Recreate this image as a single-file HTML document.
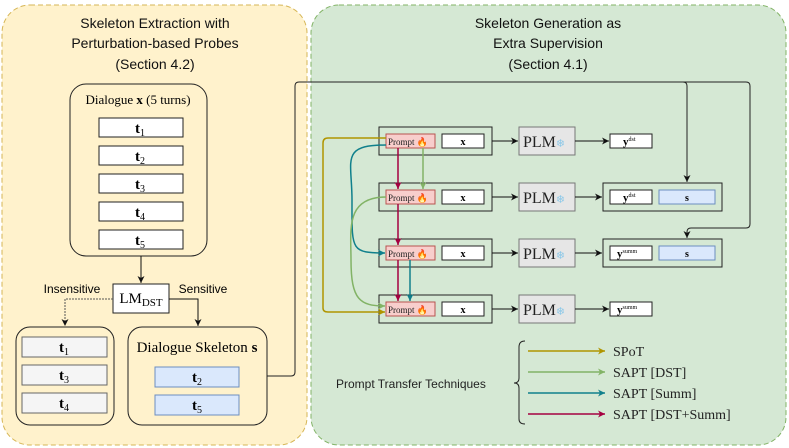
<!DOCTYPE html>
<html><head><meta charset="utf-8"><style>
body{margin:0;background:#fff}
svg{display:block}
text{font-family:"Liberation Sans",sans-serif}
.s, .s text, text.s{font-family:"Liberation Serif",serif}
</style></head><body>
<svg width="789" height="448" viewBox="0 0 789 448" xmlns="http://www.w3.org/2000/svg">
<defs>
<marker id="k" markerWidth="8" markerHeight="8" refX="7" refY="4" orient="auto" markerUnits="userSpaceOnUse"><path d="M0,0.5 L7,4 L0,7.5 L2,4z" fill="#111"/></marker>
<marker id="o" markerWidth="8" markerHeight="8" refX="7" refY="4" orient="auto" markerUnits="userSpaceOnUse"><path d="M0,0.5 L7,4 L0,7.5 L2,4z" fill="#b09500"/></marker>
<marker id="g" markerWidth="8" markerHeight="8" refX="7" refY="4" orient="auto" markerUnits="userSpaceOnUse"><path d="M0,0.5 L7,4 L0,7.5 L2,4z" fill="#82b366"/></marker>
<marker id="t" markerWidth="8" markerHeight="8" refX="7" refY="4" orient="auto" markerUnits="userSpaceOnUse"><path d="M0,0.5 L7,4 L0,7.5 L2,4z" fill="#10808c"/></marker>
<marker id="r" markerWidth="8" markerHeight="8" refX="7" refY="4" orient="auto" markerUnits="userSpaceOnUse"><path d="M0,0.5 L7,4 L0,7.5 L2,4z" fill="#a50040"/></marker>
</defs>
<rect x="2" y="5" width="305" height="440" rx="28" fill="#fff2cc" stroke="#d6b656" stroke-dasharray="5,3"/>
<rect x="311" y="5" width="475" height="440" rx="28" fill="#d5e8d4" stroke="#82b366" stroke-dasharray="5,3"/>
<g font-size="14" text-anchor="middle" fill="#111">
<text x="155" y="28">Skeleton Extraction with</text>
<text x="155" y="48">Perturbation-based Probes</text>
<text x="155" y="69">(Section 4.2)</text>
<text x="548" y="28">Skeleton Generation as</text>
<text x="548" y="48">Extra Supervision</text>
<text x="548" y="69">(Section 4.1)</text>
</g>
<rect x="70" y="84" width="137" height="172" rx="16" fill="#fff2cc" stroke="#222"/>
<text class="s" x="138" y="104" font-size="13" text-anchor="middle">Dialogue <tspan font-weight="bold">x</tspan> (5 turns)</text>
<g fill="#fff" stroke="#222">
<rect x="99" y="118" width="84" height="19"/><rect x="99" y="146" width="84" height="19"/><rect x="99" y="174" width="84" height="19"/><rect x="99" y="202" width="84" height="19"/><rect x="99" y="230" width="84" height="19"/>
</g>
<g class="s" font-size="15" text-anchor="middle" font-weight="bold">
<text x="140" y="133">t<tspan font-size="10" font-weight="normal" dy="3">1</tspan></text>
<text x="140" y="161">t<tspan font-size="10" font-weight="normal" dy="3">2</tspan></text>
<text x="140" y="189">t<tspan font-size="10" font-weight="normal" dy="3">3</tspan></text>
<text x="140" y="217">t<tspan font-size="10" font-weight="normal" dy="3">4</tspan></text>
<text x="140" y="245">t<tspan font-size="10" font-weight="normal" dy="3">5</tspan></text>
</g>
<line x1="141" y1="256" x2="141" y2="283" stroke="#111" marker-end="url(#k)"/>
<rect x="113" y="284" width="56" height="29" fill="#fff" stroke="#222"/>
<text class="s" x="141" y="303" font-size="15" text-anchor="middle">LM<tspan font-size="11" dy="3">DST</tspan></text>
<text x="72" y="293" font-size="12" text-anchor="middle">Insensitive</text>
<text x="203" y="293" font-size="12" text-anchor="middle">Sensitive</text>
<path d="M113,299 H65 V326" fill="none" stroke="#555" stroke-dasharray="2,1" marker-end="url(#k)"/>
<path d="M169,299 H198 V326" fill="none" stroke="#111" marker-end="url(#k)"/>
<rect x="16" y="327" width="98" height="98" rx="14" fill="#fff2cc" stroke="#222"/>
<g fill="#f5f5f5" stroke="#666"><rect x="22" y="337" width="85" height="20"/><rect x="22" y="365" width="85" height="20"/><rect x="22" y="393" width="85" height="20"/></g>
<g class="s" font-size="15" text-anchor="middle" font-weight="bold">
<text x="64" y="352">t<tspan font-size="10" font-weight="normal" dy="3">1</tspan></text>
<text x="64" y="380">t<tspan font-size="10" font-weight="normal" dy="3">3</tspan></text>
<text x="64" y="408">t<tspan font-size="10" font-weight="normal" dy="3">4</tspan></text>
</g>
<rect x="128" y="327" width="139" height="98" rx="14" fill="#fff2cc" stroke="#222"/>
<text class="s" x="197" y="352" font-size="15" text-anchor="middle">Dialogue Skeleton <tspan font-weight="bold">s</tspan></text>
<g fill="#dae8fc" stroke="#6c8ebf"><rect x="155" y="367" width="84" height="20"/><rect x="155" y="395" width="84" height="20"/></g>
<g class="s" font-size="15" text-anchor="middle" font-weight="bold">
<text x="197" y="382">t<tspan font-size="10" font-weight="normal" dy="3">2</tspan></text>
<text x="197" y="410">t<tspan font-size="10" font-weight="normal" dy="3">5</tspan></text>
</g>
<path d="M267,376 H291 Q295,376 295,372 V86 Q295,82 299,82 H683 Q687,82 687,86 V182" fill="none" stroke="#222" marker-end="url(#k)"/>
<path d="M683,82 H746 Q750,82 750,86 V224 Q750,228 746,228 H691 Q687,228 687,232 V238" fill="none" stroke="#222" marker-end="url(#k)"/>
<g stroke="#222" fill="none"><rect x="379" y="127" width="113" height="28"/><rect x="379" y="183" width="113" height="28"/><rect x="379" y="239" width="113" height="28"/><rect x="379" y="295" width="113" height="28"/></g>
<g fill="#f8cecc" stroke="#b85450"><rect x="386" y="134" width="49" height="14"/><rect x="386" y="190" width="49" height="14"/><rect x="386" y="246" width="49" height="14"/><rect x="386" y="302" width="49" height="14"/></g>
<g fill="#fff" stroke="#222"><rect x="442" y="134" width="42" height="14"/><rect x="442" y="190" width="42" height="14"/><rect x="442" y="246" width="42" height="14"/><rect x="442" y="302" width="42" height="14"/></g>
<g fill="#e6e6e6" stroke="#777"><rect x="519" y="127" width="56" height="28"/><rect x="519" y="183" width="56" height="28"/><rect x="519" y="239" width="56" height="28"/><rect x="519" y="295" width="56" height="28"/></g>
<g stroke="#222" fill="none"><rect x="603" y="183" width="119" height="28"/><rect x="603" y="239" width="119" height="28"/></g>
<g fill="#fff" stroke="#222"><rect x="610" y="134" width="42" height="14"/><rect x="610" y="190" width="42" height="14"/><rect x="610" y="246" width="42" height="14"/><rect x="610" y="302" width="42" height="14"/></g>
<g fill="#dae8fc" stroke="#6c8ebf"><rect x="659" y="190" width="56" height="14"/><rect x="659" y="246" width="56" height="14"/></g>
<g class="s" font-size="9" fill="#222">
<text x="388" y="145">Prompt <tspan fill="#f08020">🔥</tspan></text><text x="388" y="201">Prompt <tspan fill="#f08020">🔥</tspan></text><text x="388" y="257">Prompt <tspan fill="#f08020">🔥</tspan></text><text x="388" y="313">Prompt <tspan fill="#f08020">🔥</tspan></text>
</g>
<g class="s" font-size="10" font-weight="bold" text-anchor="middle">
<text x="463" y="145">x</text><text x="463" y="201">x</text><text x="463" y="257">x</text><text x="463" y="313">x</text>
<text x="687" y="201">s</text><text x="687" y="257">s</text>
</g>
<g class="s" font-size="16" fill="#222">
<text x="523" y="147">PLM<tspan fill="#8cc8e8" font-size="11">❄</tspan></text><text x="523" y="203">PLM<tspan fill="#8cc8e8" font-size="11">❄</tspan></text><text x="523" y="259">PLM<tspan fill="#8cc8e8" font-size="11">❄</tspan></text><text x="523" y="315">PLM<tspan fill="#8cc8e8" font-size="11">❄</tspan></text>
</g>
<g class="s" font-size="11" font-weight="bold">
<text x="623" y="145">y<tspan font-size="6" font-weight="normal" dy="-4">dst</tspan></text>
<text x="623" y="201">y<tspan font-size="6" font-weight="normal" dy="-4">dst</tspan></text>
<text x="617" y="257">y<tspan font-size="6" font-weight="normal" dy="-4">summ</tspan></text>
<text x="617" y="313">y<tspan font-size="6" font-weight="normal" dy="-4">summ</tspan></text>
</g>
<g stroke="#111" marker-end="url(#k)">
<line x1="492" y1="141" x2="518" y2="141"/><line x1="492" y1="197" x2="518" y2="197"/><line x1="492" y1="253" x2="518" y2="253"/><line x1="492" y1="309" x2="518" y2="309"/>
<line x1="575" y1="141" x2="609" y2="141"/><line x1="575" y1="197" x2="602" y2="197"/><line x1="575" y1="253" x2="602" y2="253"/><line x1="575" y1="309" x2="609" y2="309"/>
</g>
<path d="M386,138 H328 Q323,138 323,143 V308 Q323,312 328,312 H385" fill="none" stroke="#b09500" stroke-width="1.5" marker-end="url(#o)"/>
<path d="M386,145 C340,145 352,160 352,200 C352,250 350,253 385,253" fill="none" stroke="#10808c" stroke-width="1.5" marker-end="url(#t)"/>
<path d="M386,197 C345,197 351,230 351,260 C351,300 360,306 385,306" fill="none" stroke="#82b366" stroke-width="1.5" marker-end="url(#g)"/>
<line x1="423" y1="148" x2="423" y2="189" stroke="#82b366" stroke-width="1.5" marker-end="url(#g)"/>
<line x1="398" y1="148" x2="398" y2="189" stroke="#a50040" stroke-width="1.5" marker-end="url(#r)"/>
<line x1="398" y1="204" x2="398" y2="245" stroke="#a50040" stroke-width="1.5" marker-end="url(#r)"/>
<line x1="398" y1="260" x2="398" y2="301" stroke="#a50040" stroke-width="1.5" marker-end="url(#r)"/>
<line x1="410" y1="260" x2="410" y2="301" stroke="#10808c" stroke-width="1.5" marker-end="url(#t)"/>
<text x="336" y="388" font-size="12" fill="#222">Prompt Transfer Techniques</text>
<path d="M525,341 Q519,341 519,347 V378 Q519,383 514,383 Q519,383 519,388 V419 Q519,424 525,424" fill="none" stroke="#222"/>
<line x1="528" y1="351" x2="605" y2="351" stroke="#b09500" stroke-width="1.5" marker-end="url(#o)"/>
<line x1="528" y1="372" x2="605" y2="372" stroke="#82b366" stroke-width="1.5" marker-end="url(#g)"/>
<line x1="528" y1="393" x2="605" y2="393" stroke="#10808c" stroke-width="1.5" marker-end="url(#t)"/>
<line x1="528" y1="414" x2="605" y2="414" stroke="#a50040" stroke-width="1.5" marker-end="url(#r)"/>
<g class="s" font-size="14" fill="#222">
<text x="613" y="356">SPoT</text><text x="613" y="377">SAPT [DST]</text><text x="613" y="398">SAPT [Summ]</text><text x="613" y="419">SAPT [DST+Summ]</text>
</g>
</svg>
</body></html>
